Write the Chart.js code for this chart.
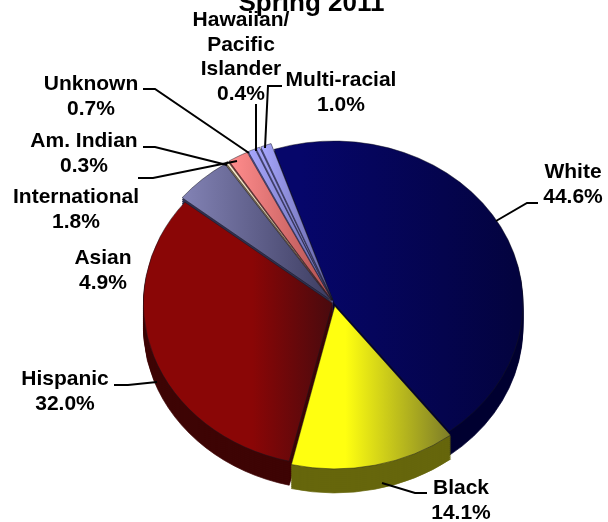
<!DOCTYPE html>
<html>
<head>
<meta charset="utf-8">
<title>Spring 2011</title>
<script src="https://cdn.jsdelivr.net/npm/chart.js@4"></script>
<style>
  html, body { margin: 0; padding: 0; background: #fff; }
  #wrap { width: 608px; height: 522px; }
</style>
</head>
<body>
<div id="wrap"><canvas id="myChart" width="608" height="522"></canvas></div>
<script>
const categories = ["White", "Black", "Hispanic", "Asian", "Am. Indian", "International", "Unknown", "Hawaiian/ Pacific Islander", "Multi-racial"];
const percents = [44.6, 14.1, 32.0, 4.9, 0.3, 1.8, 0.7, 0.4, 1.0];
const titleText = "Spring 2011";

// slice look: gradient stops left to right, side wall colour, pull-out
const lightStops = ["#06066a", "#ffff10", "#8a0606", "#8282b4", "#fff0d0", "#ff8c8c", "#a8a8ff", "#a8a8ff", "#a8a8ff"];
const darkStops = ["#03033f", "#7c7c28", "#480a0e", "#3c3c60", "#a09070", "#b05050", "#6060a0", "#6060a0", "#6060a0"];
const wallColors = ["#000030", "#66660c", "#3e0404", "#303050", "#807050", "#803030", "#505090", "#505090", "#505090"];
const pullOut = [0, 20, 8, 20, 20, 20, 20, 20, 20];
const gradFrom = [300, 345, 250, 180, 225, 228, 245, 252, 258];
const gradTo = [525, 455, 335, 335, 335, 335, 335, 335, 335];

// pie placement in page pixels
const centerX = 334, centerY = 303, radiusX = 189, radiusY = 162, depth = 24, startAngle = -18.5;

const labels = [
  { lines: ["White", "44.6%"], x: 573, y: 178, line: [[538, 203], [527, 203], [496, 221]] },
  { lines: ["Black", "14.1%"], x: 461, y: 494, line: [[427, 493], [415, 493], [382, 483]] },
  { lines: ["Hispanic", "32.0%"], x: 65, y: 385, line: [[114, 385], [128, 385], [157, 382]] },
  { lines: ["Asian", "4.9%"], x: 103, y: 264, line: [] },
  { lines: ["Am. Indian", "0.3%"], x: 84, y: 147, line: [[143, 147], [155, 147], [227, 165]] },
  { lines: ["International", "1.8%"], x: 76, y: 203, line: [[138, 178], [153, 178], [237, 161]] },
  { lines: ["Unknown", "0.7%"], x: 91, y: 90, line: [[143, 89], [155, 89], [249, 153]] },
  { lines: ["Hawaiian/", "Pacific", "Islander", "0.4%"], x: 241, y: 26, line: [[256, 104], [256, 151]] },
  { lines: ["Multi-racial", "1.0%"], x: 341, y: 86, line: [[282, 86], [268, 86], [265, 148]] }
];

function pageX(x) { return 304 + (x - centerX) * 240 / radiusX; }

function pieTransform(chart, ctx) {
  const first = chart.getDatasetMeta(0).data[0];
  ctx.translate(centerX, centerY);
  ctx.scale(radiusX / first.outerRadius, radiusY / first.outerRadius);
  ctx.translate(-first.x, -first.y);
}

const piePlugin = {
  id: "pie3d",
  beforeDatasetsDraw(chart) {
    const ctx = chart.ctx;
    const arcs = chart.getDatasetMeta(0).data;
    const yUnit = arcs[0].outerRadius / radiusY;
    ctx.save();
    pieTransform(chart, ctx);
    // side wall: the same arcs drawn again, shifted down
    for (let d = depth; d > 0; d -= 2) {
      arcs.forEach((arc, i) => {
        const keep = arc.options;
        arc.options = Object.assign({}, keep, { backgroundColor: wallColors[i], borderColor: wallColors[i] });
        ctx.save();
        ctx.translate(0, d * yUnit);
        arc.draw(ctx);
        ctx.restore();
        arc.options = keep;
      });
    }
  },
  afterDatasetsDraw(chart) {
    chart.ctx.restore();
  },
  afterDraw(chart) {
    const ctx = chart.ctx;
    ctx.save();
    ctx.fillStyle = "#000";
    ctx.textAlign = "center";
    ctx.textBaseline = "alphabetic";
    ctx.font = "bold 26px 'Liberation Sans'";
    ctx.fillText(titleText, 311.5, 11);
    ctx.font = "bold 21px 'Liberation Sans'";
    labels.forEach(l => {
      l.lines.forEach((t, i) => ctx.fillText(t, l.x, l.y + i * 24.5));
      if (l.line.length) {
        ctx.beginPath();
        l.line.forEach((p, i) => i ? ctx.lineTo(p[0], p[1]) : ctx.moveTo(p[0], p[1]));
        ctx.lineWidth = 2;
        ctx.strokeStyle = "#000";
        ctx.stroke();
      }
    });
    ctx.restore();
  }
};

function sliceFill(context) {
  const i = context.dataIndex;
  const g = context.chart.ctx.createLinearGradient(pageX(gradFrom[i]), 0, pageX(gradTo[i]), 0);
  g.addColorStop(0, lightStops[i]);
  g.addColorStop(1, darkStops[i]);
  return g;
}

new Chart(document.getElementById("myChart").getContext("2d"), {
  type: "pie",
  data: {
    labels: categories,
    datasets: [{
      data: percents,
      backgroundColor: sliceFill,
      borderColor: "rgba(20,20,30,0.7)",
      borderWidth: 1,
      offset: pullOut
    }]
  },
  options: {
    responsive: false,
    animation: false,
    rotation: startAngle,
    layout: { padding: 0 },
    plugins: { legend: { display: false }, tooltip: { enabled: false }, title: { display: false } }
  },
  plugins: [piePlugin]
});
</script>
</body>
</html>
